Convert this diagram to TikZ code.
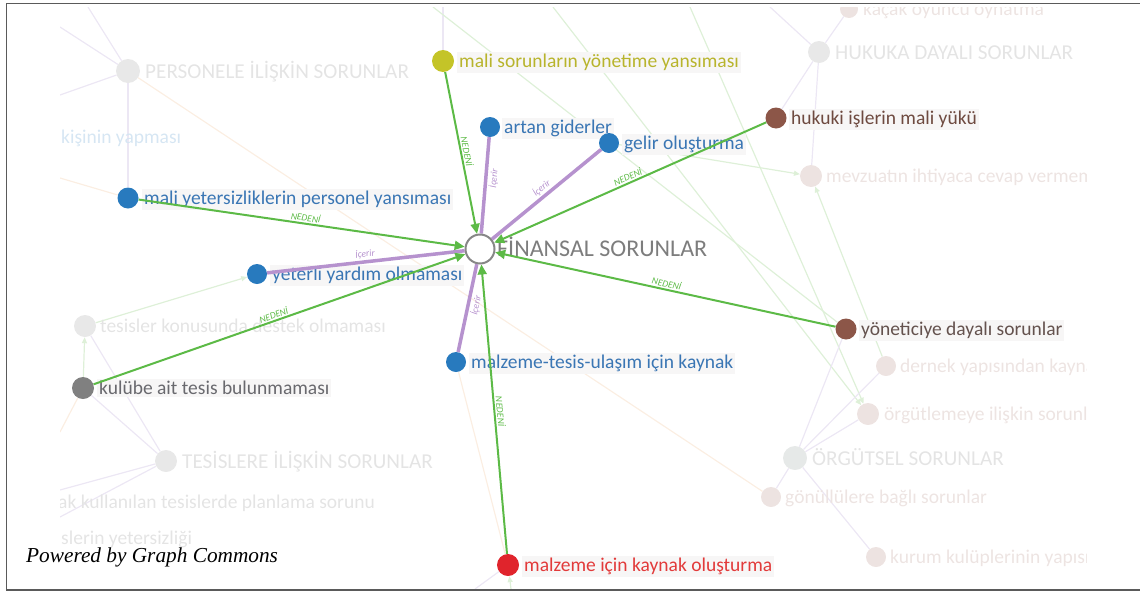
\documentclass[tikz,border=0pt]{standalone}
\usepackage{fontspec}
\setmainfont{Carlito}
\newfontfamily\pwfont{Liberation Serif}
\usetikzlibrary{arrows.meta}
\definecolor{cgreen}{RGB}{92,186,70}
\definecolor{cpurple}{RGB}{182,146,206}
\definecolor{cblue}{RGB}{40,122,190}
\definecolor{tblue}{RGB}{58,118,180}
\definecolor{cyellow}{RGB}{196,196,40}
\definecolor{tyellow}{RGB}{184,180,44}
\definecolor{cbrown}{RGB}{140,86,72}
\definecolor{tbrown}{RGB}{110,74,64}
\definecolor{tdark}{RGB}{100,82,78}
\definecolor{cgray}{RGB}{128,128,128}
\definecolor{tgray}{RGB}{105,105,110}
\definecolor{cred}{RGB}{224,36,44}
\definecolor{tred}{RGB}{226,58,58}
\definecolor{fingray}{RGB}{135,135,135}
\definecolor{fintext}{RGB}{125,125,125}
\definecolor{fnode}{RGB}{232,232,232}
\definecolor{fnodeg}{RGB}{230,233,232}
\definecolor{fpink}{RGB}{237,227,225}
\definecolor{ftext}{RGB}{228,228,228}
\definecolor{fptext}{RGB}{237,228,226}
\definecolor{fblue}{RGB}{214,230,243}
\definecolor{flav}{RGB}{236,231,244}
\definecolor{forange}{RGB}{251,238,226}
\definecolor{fgreen}{RGB}{222,240,216}
\definecolor{framec}{RGB}{90,90,90}
\definecolor{lblbg}{RGB}{247,246,246}
\pgfdeclarelayer{flines}
\pgfdeclarelayer{flabels}
\pgfdeclarelayer{edges}
\pgfsetlayers{flines,flabels,edges,main}
\begin{document}
\begin{tikzpicture}[x=1pt,y=-1pt,
  dot/.style={circle,inner sep=0pt,minimum size=#1},
  dot/.default=20pt,
  lbl/.style={anchor=base west,inner sep=2pt,fill=lblbg,font=\fontsize{19.5}{20}\selectfont},
  flbl/.style={anchor=base west,inner sep=0pt,font=\fontsize{19.5}{20}\selectfont},
  cat/.style={anchor=base west,inner sep=0pt,font=\fontsize{21.2}{22}\selectfont},
  fincat/.style={anchor=base west,inner sep=0pt,font=\fontsize{24}{25}\selectfont},
  nedeni/.style={draw=cgreen,line width=2pt,-{Triangle[length=10pt,width=9pt]}},
  icerir/.style={draw=cpurple,line width=3.5pt},
  elbl/.style={sloped,inner sep=1.5pt,font=\fontsize{9.5}{9.5}\selectfont\itshape},
  ng/.style={elbl,text=cgreen},
  np/.style={elbl,text=cpurple},
  fl/.style={line width=1.2pt},
  fa/.style={line width=1.2pt,draw=fgreen,-{Triangle[length=6pt,width=5pt]}}
]
\useasboundingbox (0,0) rectangle (1140,592);

% ---------- main nodes ----------
\node[dot=29pt,draw=fingray,line width=2pt,fill=white] (fin) at (480,249) {};
\node[dot=22pt,fill=cyellow] (msy) at (443,61) {};
\node[dot=20pt,fill=cblue] (art) at (490,127) {};
\node[dot=20pt,fill=cblue] (gel) at (609,143) {};
\node[dot=21pt,fill=cbrown] (huk) at (776,118) {};
\node[dot=21pt,fill=cblue] (mys) at (128,198) {};
\node[dot=20pt,fill=cblue] (yya) at (257,274) {};
\node[dot=21pt,fill=cbrown] (yon) at (846,329) {};
\node[dot=20pt,fill=cblue] (mtu) at (456,362) {};
\node[dot=22pt,fill=cgray] (kul) at (83,388) {};
\node[dot=22pt,fill=cred] (mik) at (508,565) {};

% ---------- faint nodes and labels ----------
\begin{pgfonlayer}{flabels}
\begin{scope}
\clip (60,7) rectangle (1086,589);
\node[dot=24pt,fill=fnode] (per) at (128,71) {};
\node[dot=22pt,fill=fnode] (huka) at (819,52) {};
\node[dot=18pt,fill=fpink] (kac) at (849,9) {};
\node[dot=22pt,fill=fpink] (mev) at (811,176) {};
\node[dot=22pt,fill=fnode] (tkd) at (85,326) {};
\node[dot=22pt,fill=fnode] (tes) at (166,461) {};
\node[dot=20pt,fill=fpink] (der) at (886,366) {};
\node[dot=22pt,fill=fpink] (org) at (868,414) {};
\node[dot=24pt,fill=fnodeg] (orgs) at (795,458) {};
\node[dot=20pt,fill=fpink] (gon) at (771,497) {};
\node[dot=20pt,fill=fpink] (kur) at (876,557) {};
\node[cat,text=ftext] (lper) at (145,78) {PERSONELE İLİŞKİN SORUNLAR};
\node[cat,text=ftext] (lhuka) at (835,59) {HUKUKA DAYALI SORUNLAR};
\node[flbl,text=fptext] (lkac) at (863,15.5) {kaçak oyuncu oynatma};
\node[flbl,text=fptext] (lmev) at (826,182.5) {mevzuatın ihtiyaca cevap vermemesi};
\node[flbl,text=ftext] (ltkd) at (100,332.5) {tesisler konusunda destek olmaması};
\node[cat,text=ftext] (ltes) at (182,468) {TESİSLERE İLİŞKİN SORUNLAR};
\node[flbl,text=fptext] (lder) at (900,372.5) {dernek yapısından kaynaklanan sorunlar};
\node[flbl,text=fptext] (lorg) at (884,420.5) {örgütlemeye ilişkin sorunlar};
\node[cat,text=ftext] (lorgs) at (812,465) {ÖRGÜTSEL SORUNLAR};
\node[flbl,text=fptext] (lgon) at (785,503.5) {gönüllülere bağlı sorunlar};
\node[flbl,text=fptext] (lkur) at (890,563.5) {kurum kulüplerinin yapısı};
\node[flbl,text=fblue] (lkis) at (61,143) {kişinin yapması};
\node[flbl,text=ftext] (lak) at (58,508) {ak kullanılan tesislerde planlama sorunu};
\node[flbl,text=ftext] (lsl) at (61,544) {slerin yetersizliği};
\end{scope}
\end{pgfonlayer}

% ---------- main labels ----------
\begin{pgfonlayer}{flabels}
\node[lbl,text=tyellow] (lmsy) at (457,67.5) {mali sorunların yönetime yansıması};
\node[lbl,text=tblue] (lart) at (502,133.5) {artan giderler};
\node[lbl,text=tblue] (lgel) at (622,149.5) {gelir oluşturma};
\node[lbl,text=tbrown] (lhuk) at (789,124.5) {hukuki işlerin mali yükü};
\node[lbl,text=tblue] (lmys) at (142,204.5) {mali yetersizliklerin personel yansıması};
\node[lbl,text=tblue] (lyya) at (270,280.5) {yeterli yardım olmaması};
\node[lbl,text=tdark] (lyon) at (859,335.5) {yöneticiye dayalı sorunlar};
\node[lbl,text=tblue] (lmtu) at (469,368.5) {malzeme-tesis-ulaşım için kaynak};
\node[lbl,text=tgray] (lkul) at (97,394.5) {kulübe ait tesis bulunmaması};
\node[lbl,text=tred] (lmik) at (522,571.5) {malzeme için kaynak oluşturma};
\node[fincat,text=fintext] (lfin) at (497,256) {FİNANSAL SORUNLAR};
\end{pgfonlayer}

% ---------- faint lines ----------
\begin{pgfonlayer}{flines}
\begin{scope}
\clip (60,7) rectangle (1086,589);
\coordinate (p1) at (60,27);
\coordinate (p2) at (88,7);
\coordinate (p3) at (60,95);
\coordinate (p4) at (60,178);
\coordinate (p5) at (443,7);
\coordinate (p6) at (553,7);
\coordinate (p7) at (690,7);
\coordinate (p8) at (770,7);
\coordinate (p9) at (60,432);
\coordinate (p10) at (60,490);
\coordinate (p11) at (60,517);
\coordinate (p12) at (475,589);
\coordinate (p13) at (511,589);
\coordinate (p14) at (433,7);
\draw[fl,flav] (per) -- (p1);
\draw[fl,flav] (per) -- (p2);
\draw[fl,flav] (per) -- (p3);
\draw[fl,flav] (per) -- (mys);
\draw[fl,forange] (per) -- (gon);
\draw[fl,forange] (p4) -- (mys);
\draw[fl,flav] (p5) -- (msy);
\draw[fl,fgreen] (p14) -- (yon);
\draw[fa] (p6) -- (org);
\draw[fa] (p7) -- (org);
\draw[fa] (gel) -- (mev);
\draw[fa] (der) -- (mev);
\draw[fl,flav] (p8) -- (huka);
\draw[fl,flav] (huka) -- (kac);
\draw[fl,flav] (huka) -- (huk);
\draw[fl,flav] (huka) -- (mev);
\draw[fl,flav] (orgs) -- (yon);
\draw[fl,flav] (orgs) -- (der);
\draw[fl,flav] (orgs) -- (org);
\draw[fl,flav] (orgs) -- (gon);
\draw[fl,flav] (orgs) -- (kur);
\draw[fl,forange] (mtu) -- (mik);
\draw[fl,forange] (kul) -- (p9);
\draw[fl,flav] (kul) -- (tes);
\draw[fl,flav] (tkd) -- (tes);
\draw[fl,flav] (tes) -- (p10);
\draw[fl,flav] (tes) -- (p11);
\draw[fa] (kul) -- (tkd);
\draw[fa] (tkd) -- (yya);
\draw[fl,flav] (p12) -- (mik);
\draw[fa] (p13) -- (mik);
\end{scope}
\end{pgfonlayer}

% ---------- main edges ----------
\begin{pgfonlayer}{edges}
\draw[icerir] (fin) -- node[np,pos=0.58,below] {İçerir} (art);
\draw[icerir] (fin) -- node[np,pos=0.5,above] {İçerir} (gel);
\draw[icerir] (fin) -- node[np,pos=0.5,above] {İçerir} (yya);
\draw[icerir] (fin) -- node[np,pos=0.45,below] {İçerir} (mtu);
\draw[nedeni] (msy) -- node[ng,pos=0.5,above] {NEDENİ} (fin);
\draw[nedeni] (huk) -- node[ng,pos=0.5,above] {NEDENİ} (fin);
\draw[nedeni] (mys) -- node[ng,pos=0.51,above] {NEDENİ} (fin);
\draw[nedeni] (kul) -- node[ng,pos=0.49,above] {NEDENİ} (fin);
\draw[nedeni] (yon) -- node[ng,pos=0.5,above] {NEDENİ} (fin);
\draw[nedeni] (mik) -- node[ng,pos=0.49,above] {NEDENİ} (fin);
\end{pgfonlayer}

% ---------- footer and frame ----------
\node[anchor=base west,inner sep=0pt,font=\pwfont\itshape\fontsize{21.3}{22}\selectfont] (pw) at (26,562) {Powered by Graph Commons};
\draw[framec,line width=1.3pt] (1141,3.5) -- (6.5,3.5) -- (6.5,590) -- (1141,590);
\end{tikzpicture}
\end{document}
